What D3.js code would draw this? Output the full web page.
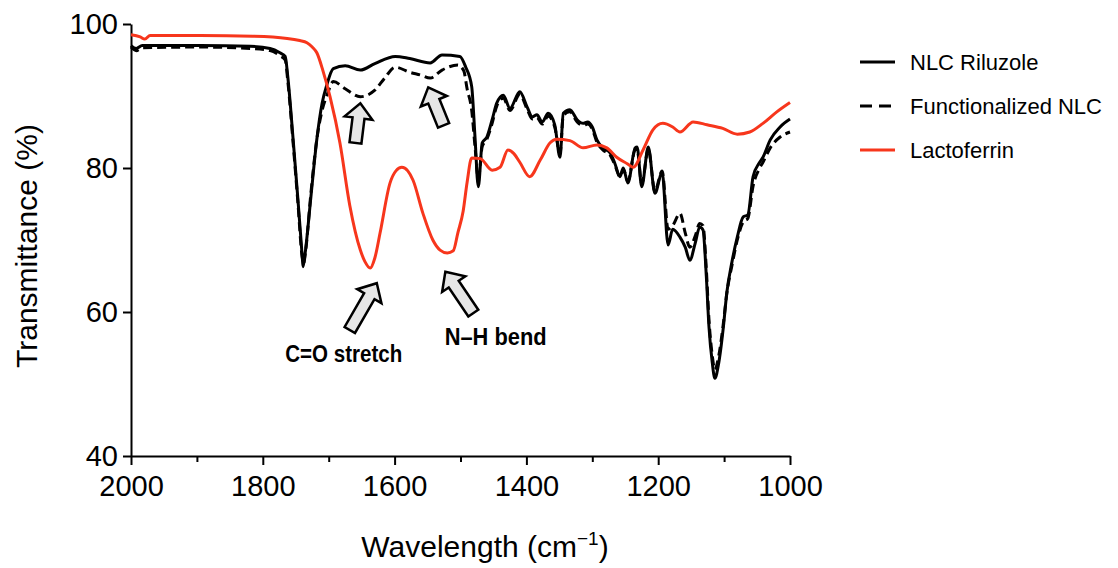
<!DOCTYPE html>
<html>
<head>
<meta charset="utf-8">
<script src="https://cdn.jsdelivr.net/npm/d3@7"></script>
<style>
  body { margin: 0; background: #fff; }
  svg { display: block; }
  text { font-family: "Liberation Sans", Arial, sans-serif; fill: #000; }
</style>
</head>
<body>
<svg id="chart" width="1118" height="568"></svg>
<script>
// [wavenumber cm-1, transmittance %]
var nlcRiluzole = [
    [2000, 97.0], [1992, 96.6], [1983, 97.0], [1895, 97.0], [1819, 96.9], [1789, 96.6], [1774, 96.0],
    [1766, 95.5], [1762, 92.6], [1754, 84], [1747, 76], [1740, 67.5], [1739, 66.3], [1736, 68],
    [1727, 76], [1718, 84], [1710, 89], [1703, 91.5], [1693, 93.8], [1675, 94.2], [1652, 93.6],
    [1630, 94.5], [1599, 95.5], [1577, 95.2], [1546, 94.6], [1528, 95.7], [1501, 95.5], [1492, 94],
    [1483, 91.3], [1478, 84.3], [1473, 77.4], [1467, 83.5], [1460, 84.3], [1452, 86.7], [1445, 89],
    [1435, 90.1], [1425, 88.3], [1410, 90.6], [1399, 88.5], [1391, 87.1], [1384, 87.4], [1376, 86.4],
    [1367, 87.6], [1357, 86], [1349, 81.5], [1344, 87.6], [1334, 88.1], [1323, 86.7], [1314, 86.2],
    [1307, 86.4], [1300, 85.7], [1293, 83.9], [1284, 82.8], [1273, 82.1], [1266, 80.7], [1258, 78.8],
    [1253, 80], [1246, 77.9], [1235, 82.8], [1232, 82.9], [1225, 77.4], [1215, 82.9], [1205, 76.5],
    [1194, 79.4], [1185, 69.3], [1178, 71.5], [1167, 70.4], [1159, 69], [1152, 67.2], [1144, 69.5],
    [1137, 71.8], [1132, 71.4], [1127, 65], [1123, 58], [1118, 53], [1114, 50.8], [1108, 53],
    [1101, 58], [1096, 62.6], [1088, 67], [1080, 70.4], [1071, 73.2], [1064, 73.5], [1056, 78.8],
    [1046, 80.8], [1041, 81.5], [1030, 83.9], [1015, 85.7], [1000, 86.8]
];

var functionalizedNlc = [
    [2000, 96.8], [1992, 96.3], [1983, 96.7], [1895, 96.8], [1819, 96.6], [1789, 96.3], [1774, 95.6],
    [1766, 95], [1762, 92], [1754, 83.5], [1747, 75.5], [1740, 67.5], [1738, 66.8], [1735, 68.5],
    [1727, 76.5], [1718, 84], [1710, 88], [1703, 90], [1693, 92], [1675, 91], [1652, 89.9],
    [1630, 90.8], [1615, 92.5], [1599, 94], [1577, 93.3], [1560, 92.9], [1546, 92.5], [1528, 93.6],
    [1504, 94.3], [1495, 93.5], [1490, 91], [1483, 88], [1478, 83], [1473, 78.5], [1467, 83],
    [1460, 84], [1452, 86.2], [1445, 88.6], [1435, 89.7], [1425, 88], [1410, 90.2], [1399, 88.2],
    [1391, 86.8], [1384, 87], [1376, 86.1], [1367, 87.2], [1357, 85.7], [1349, 82], [1344, 87.3],
    [1334, 87.8], [1323, 86.4], [1314, 85.9], [1307, 86.1], [1300, 85.4], [1293, 83.6], [1284, 82.5],
    [1273, 81.8], [1266, 80.5], [1258, 78.8], [1253, 79.8], [1246, 78.2], [1235, 82.5], [1232, 82.6],
    [1225, 77.8], [1215, 82.6], [1205, 76.8], [1194, 79.6], [1185, 71.5], [1178, 72], [1167, 73.7],
    [1159, 71], [1152, 69], [1144, 70.5], [1137, 72.3], [1132, 72], [1127, 66], [1123, 59],
    [1118, 54], [1114, 52], [1108, 54], [1101, 58.5], [1096, 62.5], [1088, 66.5], [1080, 70],
    [1071, 72.5], [1064, 73], [1056, 77.5], [1046, 80], [1041, 80.8], [1030, 82.8], [1015, 84.3],
    [1000, 85]
];

var lactoferrin = [
    [2000, 98.5], [1986, 98.2], [1979, 97.9], [1971, 98.4], [1895, 98.4], [1815, 98.3], [1763, 98.0],
    [1744, 97.7], [1733, 97.4], [1725, 96.8], [1718, 96], [1709, 93.6], [1698, 89.9], [1683, 83.5],
    [1668, 74.8], [1652, 68.6], [1645, 67], [1637, 66.1], [1630, 67.5], [1622, 71], [1607, 77.9],
    [1598, 79.6], [1589, 80.1], [1580, 79.6], [1572, 78.3], [1557, 73.7], [1542, 70], [1531, 68.6],
    [1520, 68.2], [1511, 68.5], [1504, 71], [1496, 74], [1490, 78], [1483, 81.4], [1470, 81.3],
    [1452, 79.7], [1440, 80.1], [1428, 82.5], [1419, 82], [1410, 80.8], [1395, 78.8], [1379, 81.1],
    [1364, 83.5], [1354, 84], [1334, 83.8], [1314, 82.8], [1293, 83.2], [1278, 82.8], [1263, 81.5],
    [1247, 80.6], [1238, 80.1], [1223, 82.5], [1208, 85.3], [1193, 86.2], [1178, 85.7], [1167, 85],
    [1147, 86.4], [1126, 86], [1102, 85.5], [1080, 84.7], [1061, 85], [1041, 86.2], [1020, 87.8],
    [1000, 89.1]
];

var xTicks = d3.range(1000, 2001, 100);
var yTicks = [40, 60, 80, 100];

var seriesNames = ["NLC Riluzole", "Functionalized NLC", "Lactoferrin"];

// arrow tip [wavenumber, %], tilt in degrees
var arrows = [
    {wn: 1652, t: 89.0, angle: 7, len: 40},
    {wn: 1549, t: 91.2, angle: -22, len: 41},
    {wn: 1627, t: 64.0, angle: 30, len: 54},
    {wn: 1523, t: 65.6, angle: -34, len: 50}
];
var bandLabels = [
    {text: "C=O stretch", wn: 1766, t: 53.0, width: 117},
    {text: "N\u2013H bend", wn: 1524, t: 55.4, width: 102}
];

var red = "#f7361c";

var svg = d3.select("#chart");
var x = d3.scaleLinear().domain([2000, 1000]).range([131, 790]);
var y = d3.scaleLinear().domain([40, 100]).range([456, 24]);

var line = d3.line()
    .x(function (d) { return x(d[0]); })
    .y(function (d) { return y(d[1]); })
    .curve(d3.curveMonotoneX);

// axes
var xAxis = svg.append("g")
    .attr("transform", "translate(0," + y(40) + ")")
    .call(d3.axisBottom(x)
        .tickValues(xTicks)
        .tickSize(9)
        .tickSizeOuter(0)
        .tickPadding(10)
        .tickFormat(function (d) { return d % 200 === 0 ? d : ""; }));
xAxis.selectAll(".tick line")
    .attr("y2", function (d) { return d % 200 === 0 ? 9 : 6; });

var yAxis = svg.append("g")
    .attr("transform", "translate(" + x(2000) + ",0)")
    .call(d3.axisLeft(y).tickValues(yTicks).tickSize(8).tickSizeOuter(0).tickPadding(5));

svg.selectAll(".domain, .tick line").attr("stroke", "#000").attr("stroke-width", 2);
svg.selectAll(".tick text").attr("font-size", 29).attr("font-family", "Liberation Sans, Arial, sans-serif");

svg.append("text")
    .attr("transform", "translate(37," + ((y(100) + y(40)) / 2 + 6) + ") rotate(-90)")
    .attr("text-anchor", "middle")
    .attr("font-size", 30)
    .text("Transmittance (%)");

var xt = svg.append("text")
    .attr("x", 485)
    .attr("y", 557)
    .attr("text-anchor", "middle")
    .attr("font-size", 30);
xt.append("tspan").text("Wavelength (cm");
xt.append("tspan").attr("font-size", 19).attr("dy", -12).text("\u22121");
xt.append("tspan").attr("dy", 12).text(")");

// spectra
svg.append("path").datum(nlcRiluzole)
    .attr("d", line).attr("fill", "none").attr("stroke", "#000")
    .attr("stroke-width", 3).attr("stroke-linejoin", "round");
svg.append("path").datum(functionalizedNlc)
    .attr("d", line).attr("fill", "none").attr("stroke", "#000")
    .attr("stroke-width", 3).attr("stroke-dasharray", "9,5").attr("stroke-linejoin", "round");
svg.append("path").datum(lactoferrin)
    .attr("d", line).attr("fill", "none").attr("stroke", red)
    .attr("stroke-width", 3).attr("stroke-linejoin", "round");

// block arrows, drawn pointing up then rotated about the tip
var arrowShape = function (len) {
    var hw = 14, hl = 15, sw = 6;
    return [[0, 0], [hw, hl], [sw, hl], [sw, len], [-sw, len], [-sw, hl], [-hw, hl]];
};
svg.selectAll(".arrow").data(arrows).enter().append("polygon")
    .attr("class", "arrow")
    .attr("points", function (d) { return arrowShape(d.len).join(" "); })
    .attr("transform", function (d) {
        return "translate(" + x(d.wn) + "," + y(d.t) + ") rotate(" + d.angle + ")";
    })
    .attr("fill", "#e6e6e6").attr("stroke", "#000").attr("stroke-width", 2.5)
    .attr("stroke-linejoin", "miter");

svg.selectAll(".band").data(bandLabels).enter().append("text")
    .attr("class", "band")
    .attr("x", function (d) { return x(d.wn); })
    .attr("y", function (d) { return y(d.t); })
    .attr("font-family", "Lato, 'Open Sans', sans-serif")
    .attr("font-weight", "bold")
    .attr("font-size", 24)
    .attr("textLength", function (d) { return d.width; })
    .attr("lengthAdjust", "spacingAndGlyphs")
    .text(function (d) { return d.text; });

// legend
var legend = svg.append("g").attr("transform", "translate(860,62)");
var rows = legend.selectAll("g").data(seriesNames).enter().append("g")
    .attr("transform", function (d, i) { return "translate(0," + i * 44 + ")"; });
rows.append("line")
    .attr("x1", 0).attr("x2", 35).attr("y1", 0).attr("y2", 0)
    .attr("stroke", function (d, i) { return i === 2 ? red : "#000"; })
    .attr("stroke-width", 3)
    .attr("stroke-dasharray", function (d, i) { return i === 1 ? "12,7" : null; });
rows.append("text")
    .attr("x", 50).attr("y", 8)
    .attr("font-size", 22)
    .text(function (d) { return d; });
</script>
</body>
</html>
